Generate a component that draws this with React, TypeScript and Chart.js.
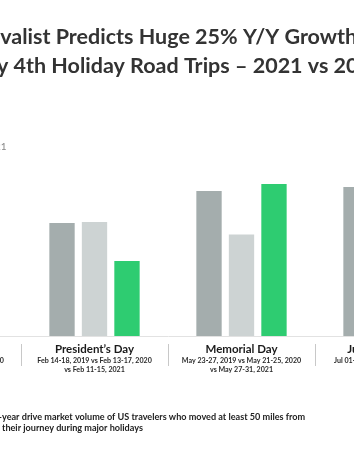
import React, { useEffect, useRef } from "react";
import { Chart, registerables } from "chart.js";

Chart.register(...registerables);

const categories = ["MLK Day", "President’s Day", "Memorial Day", "July 4th Holiday"];
const dateLine1 = [
  "Jan 17-21, 2019 vs Jan 16-20, 2020",
  "Feb 14-18, 2019 vs Feb 13-17, 2020",
  "May 23-27, 2019 vs May 21-25, 2020",
  "Jul 01-05, 2019 vs Jul 01-05, 2020",
];
const dateLine2 = ["vs Jan 14-18, 2021", "vs Feb 11-15, 2021", "vs May 27-31, 2021", "vs Jul 01-05, 2021"];
const seriesNames = ["2019", "2020", "2021"];
const values2019 = [60, 64.9, 83.3, 85.6];
const values2020 = [58, 65.5, 58.3, 62];
const values2021 = [52, 43.1, 87.4, 104];
const titleLines = ["Arrivalist Predicts Huge 25% Y/Y Growth for", "July 4th Holiday Road Trips – 2021 vs 2019"];
const footnotePrefix = ["Year-over-", "home on "];
const footnoteRest = [
  "year drive market volume of US travelers who moved at least 50 miles from",
  "their journey during major holidays",
];

const colors = ["#a4adad", "#cdd3d3", "#2ecc71"];
const CANVAS_LEFT = -136;
const CANVAS_W = 626;
const CANVAS_H = 460;

export default function App() {
  const ref = useRef<HTMLCanvasElement>(null);
  useEffect(() => {
    document.body.style.margin = "0";
    const canvas = ref.current!;
    const labelsPlugin = {
      id: "holidayLabels",
      afterDraw(chart: any) {
        const ctx = chart.ctx as CanvasRenderingContext2D;
        const xs = chart.scales.x;
        ctx.save();
        ctx.textAlign = "center";
        ctx.textBaseline = "middle";
        categories.forEach((name, i) => {
          const x = xs.getPixelForValue(i);
          ctx.fillStyle = "#1b1b1b";
          ctx.font = "bold 11.5px Lato";
          ctx.fillText(name, x, 349.5);
          ctx.fillStyle = "#2a2a2a";
          ctx.font = "bold 7.1px Lato";
          ctx.fillText(dateLine1[i], x, 361);
          ctx.fillText(dateLine2[i], x, 370);
          if (i > 0) {
            const xm = Math.round((x + xs.getPixelForValue(i - 1)) / 2) + 0.5;
            ctx.strokeStyle = "#c8c8c8";
            ctx.lineWidth = 1;
            ctx.beginPath();
            ctx.moveTo(xm, 344);
            ctx.lineTo(xm, 366);
            ctx.stroke();
          }
        });
        ctx.textAlign = "left";
        ctx.fillStyle = "#222";
        ctx.font = "bold 9.1px Lato";
        const anchor = -CANVAS_LEFT + 2;
        [417.5, 428].forEach((y, k) => {
          const w = ctx.measureText(footnotePrefix[k]).width;
          ctx.fillText(footnotePrefix[k] + footnoteRest[k], anchor - w, y);
        });
        ctx.restore();
      },
    };
    const chart = new Chart(canvas, {
      type: "bar",
      data: {
        labels: categories,
        datasets: [values2019, values2020, values2021].map((d, i) => ({
          label: seriesNames[i],
          data: d,
          backgroundColor: colors[i],
          borderWidth: 0,
          categoryPercentage: 0.663,
          barPercentage: 0.78,
        })),
      },
      options: {
        responsive: false,
        animation: false,
        devicePixelRatio: 1,
        layout: { padding: { left: 10, right: 10, top: 0, bottom: 124 } },
        plugins: {
          title: {
            display: true,
            text: titleLines,
            color: "#333",
            font: { family: "Lato", size: 21.5, weight: "bold", lineHeight: 29 / 21.5 },
            padding: { top: 22.5, bottom: 57.5 },
          },
          legend: {
            display: true,
            align: "start",
            labels: {
              color: "#888",
              font: { family: "Lato", size: 10 },
              boxWidth: 12,
              boxHeight: 10,
              padding: 4,
            },
          },
          tooltip: { enabled: false },
        },
        scales: {
          x: {
            grid: { display: false, drawTicks: false },
            ticks: { display: false },
            border: { display: true, color: "#e2e2e2" },
          },
          y: {
            display: true,
            position: "right",
            min: 0,
            max: 100,
            grid: { display: false, drawTicks: false },
            border: { display: false },
            ticks: { display: false },
            afterFit(scale: any) {
              scale.width = 18;
            },
          },
        },
      },
      plugins: [labelsPlugin],
    });
    return () => chart.destroy();
  }, []);
  return (
    <div style={{ position: "fixed", left: 0, top: 0, width: 354, height: 460, overflow: "hidden", background: "#fff" }}>
      <canvas
        ref={ref}
        width={CANVAS_W}
        height={CANVAS_H}
        style={{ position: "absolute", left: CANVAS_LEFT, top: 0, width: CANVAS_W, height: CANVAS_H }}
      />
    </div>
  );
}
